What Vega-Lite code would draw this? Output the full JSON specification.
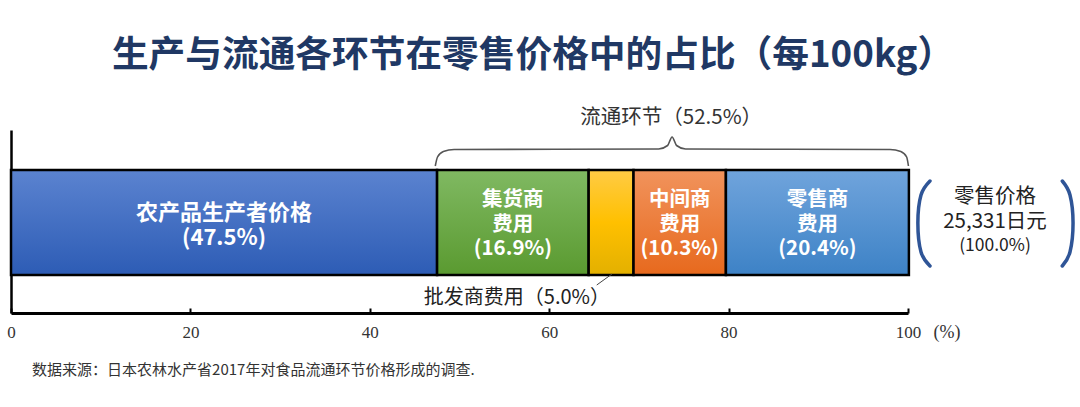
{
  "$schema": "https://vega.github.io/schema/vega-lite/v6.json",
  "width": 897,
  "height": 183,
  "autosize": {"type": "none"},
  "padding": {"left": 11, "top": 130, "right": 172, "bottom": 94},
  "background": "white",
  "config": {
    "view": {"stroke": null},
    "font": "Noto Sans CJK SC",
    "axisX": {"grid": false, "domainColor": "#000", "domainWidth": 3,
      "tickColor": "#000", "tickWidth": 2, "tickSize": -5, "labelFont": "Liberation Serif", "labelFontSize": 17,
      "labelColor": "#333", "labelPadding": 16, "labelFlush": false, "titleOpacity": 0},
    "axisY": {"domain": true, "labels": false, "ticks": false, "grid": false, "domainColor": "#000", "domainWidth": 2.5, "titleOpacity": 0}
  },
  "datasets": {
    "segs": [
      {"seg": "producer", "pct": 47.5, "order": 1, "line1": "农产品生产者价格", "line2": "(47.5%)", "line3": ""},
      {"seg": "collector", "pct": 16.9, "order": 2, "line1": "集货商", "line2": "费用", "line3": "(16.9%)"},
      {"seg": "wholesale", "pct": 5.0, "order": 3, "line1": "", "line2": "", "line3": ""},
      {"seg": "middle", "pct": 10.3, "order": 4, "line1": "中间商", "line2": "费用", "line3": "(10.3%)"},
      {"seg": "retail", "pct": 20.4, "order": 5, "line1": "零售商", "line2": "费用", "line3": "(20.4%)"}
    ],
    "brace": [
      {"i": 1, "x": 47.3, "v": 147}, {"i": 2, "x": 47.55, "v": 156}, {"i": 3, "x": 48.2, "v": 161.5},
      {"i": 4, "x": 49.4, "v": 163.5}, {"i": 5, "x": 72.2, "v": 164}, {"i": 6, "x": 73.2, "v": 167.5},
      {"i": 7, "x": 73.7, "v": 176}, {"i": 8, "x": 74.2, "v": 167.5}, {"i": 9, "x": 75.2, "v": 164},
      {"i": 10, "x": 98.0, "v": 163.5}, {"i": 11, "x": 99.2, "v": 161.5}, {"i": 12, "x": 99.85, "v": 156},
      {"i": 13, "x": 100.05, "v": 147}
    ],
    "parens": [
      {"side": "L", "i": 1, "x": 102.45, "v": 132}, {"side": "L", "i": 2, "x": 101.45, "v": 118},
      {"side": "L", "i": 3, "x": 101.1, "v": 90}, {"side": "L", "i": 4, "x": 101.45, "v": 61},
      {"side": "L", "i": 5, "x": 102.45, "v": 47},
      {"side": "R", "i": 1, "x": 117.2, "v": 132}, {"side": "R", "i": 2, "x": 118.06, "v": 118},
      {"side": "R", "i": 3, "x": 118.4, "v": 90}, {"side": "R", "i": 4, "x": 118.06, "v": 61},
      {"side": "R", "i": 5, "x": 117.2, "v": 47}
    ]
  },
  "layer": [
    {
      "data": {"name": "segs"},
      "transform": [{"stack": "pct", "groupby": [], "sort": [{"field": "order", "order": "ascending"}], "as": ["x0", "x1"]}],
      "mark": {"type": "bar", "stroke": "#000", "strokeWidth": 2.5},
      "encoding": {
        "x": {"field": "x0", "type": "quantitative", "title": null, "scale": {"domain": [0, 100], "nice": false},
          "axis": {"values": [0, 20, 40, 60, 80, 100]}},
        "x2": {"field": "x1"},
        "y": {"datum": 38, "type": "quantitative", "title": null, "scale": {"domain": [0, 183], "nice": false, "zero": false}},
        "y2": {"datum": 143},
        "fill": {
          "condition": [
            {"test": "datum.seg === 'producer'", "value": {"gradient": "linear", "x1": 0, "y1": 0, "x2": 0, "y2": 1, "stops": [{"offset": 0, "color": "#5B83D0"}, {"offset": 1, "color": "#2D5CB5"}]}},
            {"test": "datum.seg === 'collector'", "value": {"gradient": "linear", "x1": 0, "y1": 0, "x2": 0, "y2": 1, "stops": [{"offset": 0, "color": "#80B962"}, {"offset": 1, "color": "#5A9A30"}]}},
            {"test": "datum.seg === 'wholesale'", "value": {"gradient": "linear", "x1": 0, "y1": 0, "x2": 0, "y2": 1, "stops": [{"offset": 0, "color": "#FFCB45"}, {"offset": 0.5, "color": "#FFC000"}, {"offset": 1, "color": "#E3B000"}]}},
            {"test": "datum.seg === 'middle'", "value": {"gradient": "linear", "x1": 0, "y1": 0, "x2": 0, "y2": 1, "stops": [{"offset": 0, "color": "#F1935C"}, {"offset": 1, "color": "#E7691D"}]}}
          ],
          "value": {"gradient": "linear", "x1": 0, "y1": 0, "x2": 0, "y2": 1, "stops": [{"offset": 0, "color": "#70A4DC"}, {"offset": 1, "color": "#3D82C6"}]}
        }
      }
    },
    {
      "data": {"name": "segs"},
      "transform": [{"filter": "datum.order === 1"}],
      "mark": {"type": "text", "fill": "white", "fontWeight": "bold", "fontSize": 22, "baseline": "middle", "align": "center"},
      "encoding": {
        "x": {"field": "pct", "type": "quantitative", "title": null, "stack": "zero", "bandPosition": 0.5, "scale": {"domain": [0, 100]}},
        "y": {"datum": 100, "type": "quantitative", "title": null, "scale": {"domain": [0, 183]}},
        "detail": {"field": "seg"},
        "order": {"field": "order"},
        "text": {"field": "line1", "type": "nominal"}
      }
    },
    {
      "data": {"name": "segs"},
      "transform": [{"filter": "datum.order === 1"}],
      "mark": {"type": "text", "fill": "white", "fontWeight": "bold", "fontSize": 22, "baseline": "middle", "align": "center"},
      "encoding": {
        "x": {"field": "pct", "type": "quantitative", "title": null, "stack": "zero", "bandPosition": 0.5, "scale": {"domain": [0, 100]}},
        "y": {"datum": 75, "type": "quantitative", "title": null, "scale": {"domain": [0, 183]}},
        "detail": {"field": "seg"},
        "order": {"field": "order"},
        "text": {"field": "line2", "type": "nominal"}
      }
    },
    {
      "data": {"name": "segs"},
      "mark": {"type": "text", "fill": "white", "fontWeight": "bold", "fontSize": 20.5, "baseline": "middle", "align": "center"},
      "encoding": {
        "x": {"field": "pct", "type": "quantitative", "title": null, "stack": "zero", "bandPosition": 0.5, "scale": {"domain": [0, 100]}},
        "y": {"datum": 113, "type": "quantitative", "title": null, "scale": {"domain": [0, 183]}},
        "detail": {"field": "seg"},
        "order": {"field": "order"},
        "text": {"condition": {"test": "datum.order === 1", "value": ""}, "field": "line1", "type": "nominal"}
      }
    },
    {
      "data": {"name": "segs"},
      "mark": {"type": "text", "fill": "white", "fontWeight": "bold", "fontSize": 20.5, "baseline": "middle", "align": "center"},
      "encoding": {
        "x": {"field": "pct", "type": "quantitative", "title": null, "stack": "zero", "bandPosition": 0.5, "scale": {"domain": [0, 100]}},
        "y": {"datum": 88.5, "type": "quantitative", "title": null, "scale": {"domain": [0, 183]}},
        "detail": {"field": "seg"},
        "order": {"field": "order"},
        "text": {"condition": {"test": "datum.order === 1", "value": ""}, "field": "line2", "type": "nominal"}
      }
    },
    {
      "data": {"name": "segs"},
      "mark": {"type": "text", "fill": "white", "fontWeight": "bold", "fontSize": 20.5, "baseline": "middle", "align": "center"},
      "encoding": {
        "x": {"field": "pct", "type": "quantitative", "title": null, "stack": "zero", "bandPosition": 0.5, "scale": {"domain": [0, 100]}},
        "y": {"datum": 64.5, "type": "quantitative", "title": null, "scale": {"domain": [0, 183]}},
        "detail": {"field": "seg"},
        "order": {"field": "order"},
        "text": {"field": "line3", "type": "nominal"}
      }
    },
    {
      "data": {"name": "brace"},
      "mark": {"type": "line", "stroke": "#555", "strokeWidth": 1.6, "interpolate": "monotone"},
      "encoding": {
        "x": {"field": "x", "type": "quantitative", "title": null, "scale": {"domain": [0, 100]}},
        "y": {"field": "v", "type": "quantitative", "title": null, "scale": {"domain": [0, 183]}},
        "order": {"field": "i"}
      }
    },
    {
      "data": {"name": "parens"},
      "mark": {"type": "line", "stroke": "#2F5597", "strokeWidth": 3.5, "strokeCap": "round", "interpolate": "cardinal"},
      "encoding": {
        "x": {"field": "x", "type": "quantitative", "title": null, "scale": {"domain": [0, 100]}},
        "y": {"field": "v", "type": "quantitative", "title": null, "scale": {"domain": [0, 183]}},
        "detail": {"field": "side"},
        "order": {"field": "i"}
      }
    },
    {
      "data": {"values": [{}]},
      "mark": {"type": "rule", "stroke": "#444", "strokeWidth": 1},
      "encoding": {
        "x": {"datum": 65.3, "type": "quantitative", "title": null, "scale": {"domain": [0, 100]}},
        "x2": {"datum": 67.0},
        "y": {"datum": 28, "type": "quantitative", "title": null, "scale": {"domain": [0, 183]}},
        "y2": {"datum": 39}
      }
    },
    {
      "data": {"values": [{}]},
      "mark": {"type": "text", "text": "生产与流通各环节在零售价格中的占比（每100kg）", "fontSize": 36.7, "fontWeight": "bold", "fill": "#203864", "baseline": "middle", "align": "center"},
      "encoding": {
        "x": {"datum": 58.2, "type": "quantitative", "title": null, "scale": {"domain": [0, 100]}},
        "y": {"datum": 257.5, "type": "quantitative", "title": null, "scale": {"domain": [0, 183]}}
      }
    },
    {
      "data": {"values": [{}]},
      "mark": {"type": "text", "text": "流通环节（52.5%）", "fontSize": 20.5, "fill": "#333", "baseline": "middle", "align": "center"},
      "encoding": {
        "x": {"datum": 73.6, "type": "quantitative", "title": null, "scale": {"domain": [0, 100]}},
        "y": {"datum": 195, "type": "quantitative", "title": null, "scale": {"domain": [0, 183]}}
      }
    },
    {
      "data": {"values": [{}]},
      "mark": {"type": "text", "text": "批发商费用（5.0%）", "fontSize": 20, "fill": "#222", "baseline": "middle", "align": "center"},
      "encoding": {
        "x": {"datum": 56.4, "type": "quantitative", "title": null, "scale": {"domain": [0, 100]}},
        "y": {"datum": 15, "type": "quantitative", "title": null, "scale": {"domain": [0, 183]}}
      }
    },
    {
      "data": {"values": [{}]},
      "mark": {"type": "text", "text": "零售价格", "fontSize": 20.5, "fill": "#222", "baseline": "middle", "align": "center"},
      "encoding": {
        "x": {"datum": 109.7, "type": "quantitative", "title": null, "scale": {"domain": [0, 100]}},
        "y": {"datum": 116, "type": "quantitative", "title": null, "scale": {"domain": [0, 183]}}
      }
    },
    {
      "data": {"values": [{}]},
      "mark": {"type": "text", "text": "25,331日元", "fontSize": 20.5, "fill": "#222", "baseline": "middle", "align": "center"},
      "encoding": {
        "x": {"datum": 109.7, "type": "quantitative", "title": null, "scale": {"domain": [0, 100]}},
        "y": {"datum": 91, "type": "quantitative", "title": null, "scale": {"domain": [0, 183]}}
      }
    },
    {
      "data": {"values": [{}]},
      "mark": {"type": "text", "text": "(100.0%)", "fontSize": 17.5, "fill": "#222", "baseline": "middle", "align": "center"},
      "encoding": {
        "x": {"datum": 109.7, "type": "quantitative", "title": null, "scale": {"domain": [0, 100]}},
        "y": {"datum": 67, "type": "quantitative", "title": null, "scale": {"domain": [0, 183]}}
      }
    },
    {
      "data": {"values": [{}]},
      "mark": {"type": "text", "text": "(%)", "font": "Liberation Serif", "fontSize": 18, "fill": "#333", "baseline": "middle", "align": "center"},
      "encoding": {
        "x": {"datum": 104.35, "type": "quantitative", "title": null, "scale": {"domain": [0, 100]}},
        "y": {"datum": -20, "type": "quantitative", "title": null, "scale": {"domain": [0, 183]}}
      }
    },
    {
      "data": {"values": [{}]},
      "mark": {"type": "text", "text": "数据来源：日本农林水产省2017年对食品流通环节价格形成的调查.", "fontSize": 15, "fill": "#333", "baseline": "middle", "align": "left"},
      "encoding": {
        "x": {"datum": 2.35, "type": "quantitative", "title": null, "scale": {"domain": [0, 100]}},
        "y": {"datum": -57, "type": "quantitative", "title": null, "scale": {"domain": [0, 183]}}
      }
    }
  ]
}
